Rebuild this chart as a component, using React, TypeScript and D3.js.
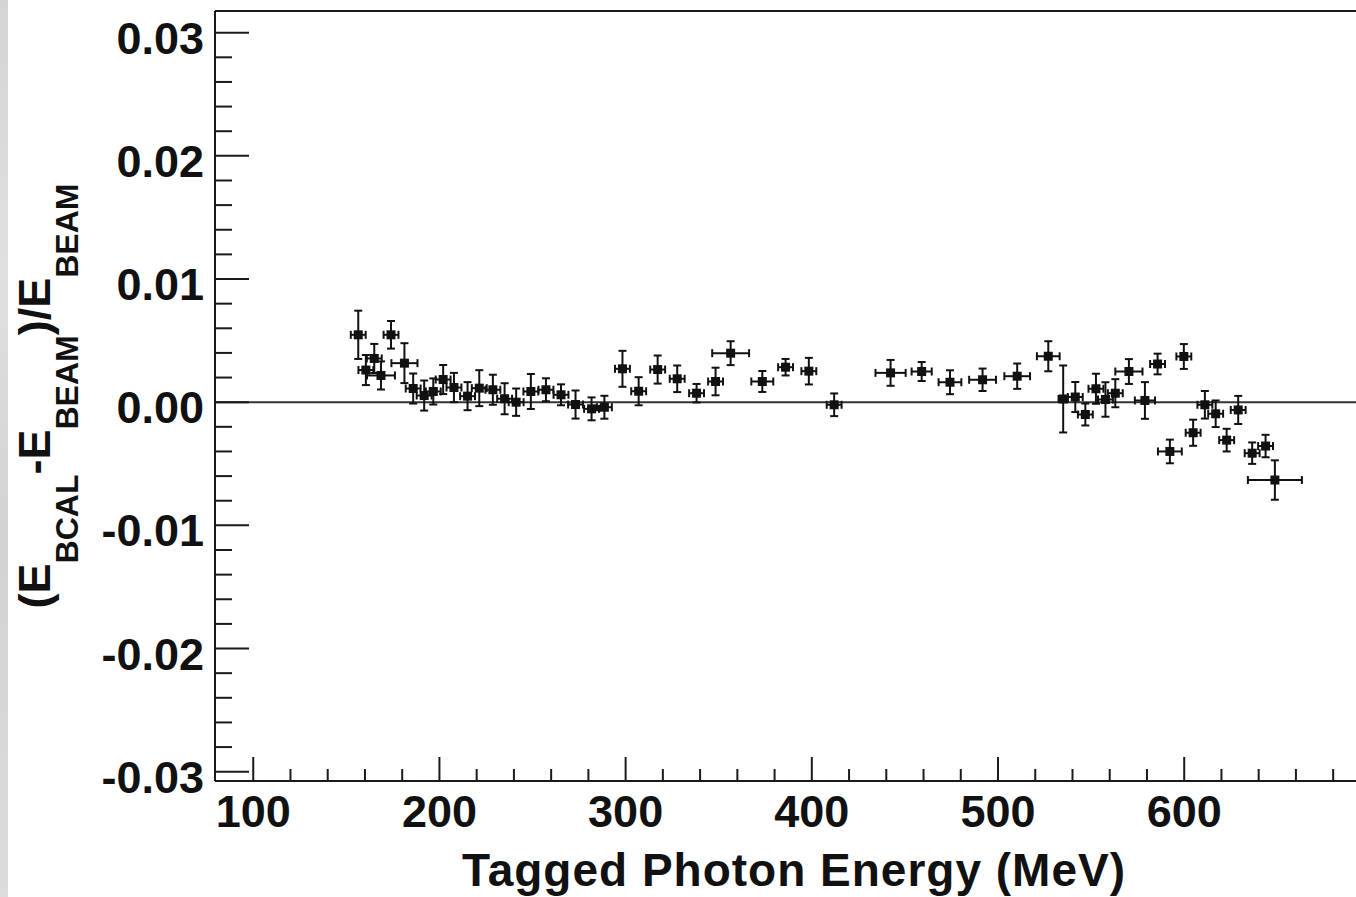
import React from "react";
import * as d3 from "d3";

// Tagged photon energy (MeV)
const energies = [
  156.4, 160.5, 165.0, 168.6, 174.0, 181.2, 185.9, 191.8, 196.7, 202.0,
  207.8, 215.1, 221.4, 228.7, 235.0, 241.2, 249.1, 257.2, 265.3, 273.1,
  281.7, 288.6, 298.3, 307.0, 317.2, 327.7, 338.1, 348.3, 356.4, 373.4,
  385.9, 398.4, 412.0, 442.3, 459.0, 474.2, 491.7, 510.3, 527.0, 535.0,
  541.5, 546.9, 552.6, 557.7, 563.0, 570.3, 578.9, 585.7, 592.3, 599.8,
  604.8, 611.1, 616.9, 622.8, 629.0, 636.5, 643.7, 648.7,
];
// (E_BCAL - E_BEAM)/E_BEAM
const values = [
  0.00547, 0.00261, 0.00355, 0.00217, 0.00547, 0.00317, 0.00111, 0.00054, 0.00087, 0.00184,
  0.00119, 0.00049, 0.00114, 0.00101, 0.00028, 0.0, 0.00087, 0.00101, 0.0006, -0.00019,
  -0.00054, -0.00041, 0.00271, 0.00089, 0.00265, 0.0019, 0.00073, 0.00168, 0.00398, 0.00168,
  0.00284, 0.00252, -0.00021, 0.00238, 0.00249, 0.00162, 0.00182, 0.00211, 0.00373, 0.00026,
  0.00042, -0.001, 0.00109, 0.00022, 0.00073, 0.00249, 0.00014, 0.0031, -0.004, 0.00371,
  -0.00248, -0.00021, -0.00094, -0.00308, -0.00063, -0.00414, -0.00356, -0.00632,
];
const yErrors = [
  0.00196, 0.00122, 0.00118, 0.00114, 0.00112, 0.00162, 0.00122, 0.00122, 0.00106, 0.00118,
  0.00119, 0.00114, 0.00146, 0.00122, 0.00126, 0.00111, 0.00142, 0.00093, 0.00085, 0.00114,
  0.00093, 0.00093, 0.00146, 0.00114, 0.00114, 0.00108, 0.00075, 0.00112, 0.00097, 0.00085,
  0.00067, 0.00108, 0.00092, 0.00105, 0.00077, 0.00097, 0.00091, 0.00103, 0.00122, 0.00272,
  0.00122, 0.00089, 0.00122, 0.0014, 0.00114, 0.00101, 0.00149, 0.00084, 0.00096, 0.00101,
  0.00106, 0.00112, 0.00108, 0.00092, 0.00114, 0.00087, 0.00091, 0.0016,
];
const xErrors = [
  4, 4, 4, 7.5, 4, 7, 4, 4, 4, 4,
  4, 4, 4, 4, 4, 4, 4, 4, 4, 4,
  4, 4, 4, 4, 4, 4, 4, 4, 9.9, 5.9,
  4, 4, 4, 8.1, 5.4, 6.1, 7.2, 6.9, 6.1, 2.5,
  4, 4, 4, 4, 4, 7.3, 5.4, 4, 6.4, 4,
  4, 4, 4, 4, 4, 4, 4, 14.5,
];

const xMajorTicks = [100, 200, 300, 400, 500, 600, 700];
const xLabelTicks = [100, 200, 300, 400, 500, 600];
const xTickLabels = ["100", "200", "300", "400", "500", "600"];
const yMajorTicks = [-0.03, -0.02, -0.01, 0, 0.01, 0.02, 0.03];
const yTickLabels = ["-0.03", "-0.02", "-0.01", "0.00", "0.01", "0.02", "0.03"];
const xTitle = "Tagged Photon Energy (MeV)";

const W = 1356;
const H = 897;
const FONT = "'Liberation Sans', Arial, Helvetica, sans-serif";

export default function App() {
  const left = 215;
  const top = 11;
  const bottom = 781;
  const x = d3.scaleLinear().domain([80, 700]).range([216, 1370.4]);
  const y = d3.scaleLinear().domain([-0.030755, 0.03176]).range([bottom, top]);

  const xMinor = d3.range(100, 701, 20).filter((v) => v % 100 !== 0);
  const yMinor = d3
    .range(-30, 32, 2)
    .map((v) => v / 1000)
    .filter((v) => Math.abs(Math.round(v * 1000)) % 10 !== 0);

  const ink = "#111";
  const axisInk = "#1a1a1a";
  const ms = 9;
  const cap = 8;

  return (
    <svg
      width={W}
      height={H}
      style={{ position: "absolute", left: 0, top: 0, background: "#fff" }}
    >
      <defs>
        <linearGradient id="strip" x1="0" y1="0" x2="0" y2="1">
          <stop offset="0" stopColor="#d4d4d4" />
          <stop offset="0.3" stopColor="#e0e0e0" />
          <stop offset="0.6" stopColor="#d2d2d2" />
          <stop offset="1" stopColor="#dcdcdc" />
        </linearGradient>
        <clipPath id="plotClip">
          <rect x={left} y={top} width={W - left} height={bottom - top} />
        </clipPath>
      </defs>
      <rect x={0} y={0} width={W} height={H} fill="#fff" />
      <rect x={0} y={0} width={8} height={H} fill="url(#strip)" />

      {/* frame */}
      <line x1={left} x2={W} y1={top} y2={top} stroke={axisInk} strokeWidth={2} />
      <line x1={left} x2={left} y1={top} y2={bottom} stroke={axisInk} strokeWidth={2} />
      <line x1={left} x2={W} y1={bottom} y2={bottom} stroke={axisInk} strokeWidth={2} />

      {/* zero line */}
      <line x1={left} x2={W} y1={y(0)} y2={y(0)} stroke="#333" strokeWidth={2} />

      {/* y ticks */}
      {yMajorTicks.map((t) => (
        <line key={"ym" + t} x1={left} x2={left + 34} y1={y(t)} y2={y(t)} stroke={axisInk} strokeWidth={2} />
      ))}
      {yMinor.map((t) => (
        <line key={"yn" + t} x1={left} x2={left + 17} y1={y(t)} y2={y(t)} stroke={axisInk} strokeWidth={2} />
      ))}
      {yMajorTicks.map((t, i) => (
        <text
          key={"yl" + t}
          x={204}
          y={y(t) + 21}
          textAnchor="end"
          fontFamily={FONT}
          fontWeight="bold"
          fontSize={45}
          fill={ink}
        >
          {yTickLabels[i]}
        </text>
      ))}

      {/* x ticks */}
      {xMajorTicks.map((t) => (
        <line key={"xm" + t} x1={x(t)} x2={x(t)} y1={bottom} y2={bottom - 24} stroke={axisInk} strokeWidth={2} />
      ))}
      {xMinor.map((t) => (
        <line key={"xn" + t} x1={x(t)} x2={x(t)} y1={bottom} y2={bottom - 12} stroke={axisInk} strokeWidth={2} />
      ))}
      {xLabelTicks.map((t, i) => (
        <text
          key={"xl" + t}
          x={x(t)}
          y={827}
          textAnchor="middle"
          fontFamily={FONT}
          fontWeight="bold"
          fontSize={45}
          fill={ink}
        >
          {xTickLabels[i]}
        </text>
      ))}

      {/* axis titles */}
      <text
        x={794}
        y={886}
        textAnchor="middle"
        fontFamily={FONT}
        fontWeight="bold"
        fontSize={46}
        letterSpacing={1}
        fill={ink}
      >
        {xTitle}
      </text>
      <text
        transform="translate(50,396) rotate(-90)"
        textAnchor="middle"
        fontFamily={FONT}
        fontWeight="bold"
        fontSize={45}
        fill={ink}
      >
        <tspan>(E</tspan>
        <tspan fontSize={32} dy={28}>BCAL</tspan>
        <tspan dy={-28}>-E</tspan>
        <tspan fontSize={32} dy={28}>BEAM</tspan>
        <tspan dy={-28}>)/E</tspan>
        <tspan fontSize={32} dy={28}>BEAM</tspan>
      </text>

      {/* data */}
      <g clipPath="url(#plotClip)" stroke={ink} strokeWidth={2} fill={ink}>
        {energies.map((e, i) => {
          const cx = x(e);
          const cy = y(values[i]);
          const x0 = x(e - xErrors[i]);
          const x1 = x(e + xErrors[i]);
          const y0 = y(values[i] + yErrors[i]);
          const y1 = y(values[i] - yErrors[i]);
          return (
            <g key={"p" + i}>
              <line x1={x0} x2={x1} y1={cy} y2={cy} />
              <line x1={cx} x2={cx} y1={y0} y2={y1} />
              <line x1={cx - cap / 2} x2={cx + cap / 2} y1={y0} y2={y0} />
              <line x1={cx - cap / 2} x2={cx + cap / 2} y1={y1} y2={y1} />
              <line x1={x0} x2={x0} y1={cy - cap / 2} y2={cy + cap / 2} />
              <line x1={x1} x2={x1} y1={cy - cap / 2} y2={cy + cap / 2} />
              <rect x={cx - ms / 2} y={cy - ms / 2} width={ms} height={ms} stroke="none" />
            </g>
          );
        })}
      </g>
    </svg>
  );
}
